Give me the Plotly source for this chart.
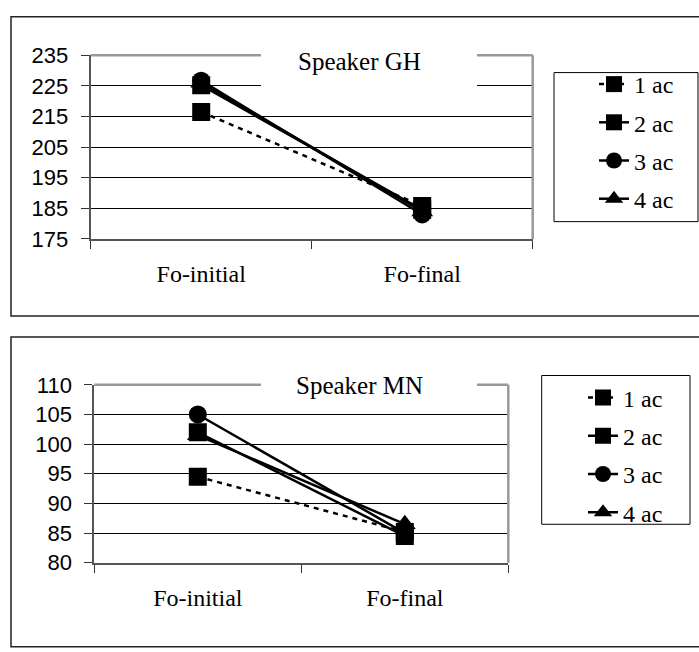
import plotly.graph_objects as go

W, H = 699, 652

# ---- data ----
categories = ["Fo-initial", "Fo-final"]
series_names = ["1 ac", "2 ac", "3 ac", "4 ac"]
gh_1ac = [216.5, 185.8]
gh_2ac = [225.2, 184.5]
gh_3ac = [226.7, 183.0]
gh_4ac = [226.0, 184.0]
mn_1ac = [94.5, 85.2]
mn_2ac = [102.0, 84.5]
mn_3ac = [105.0, 85.0]
mn_4ac = [101.5, 86.5]
gh_ticks = [175, 185, 195, 205, 215, 225, 235]
mn_ticks = [80, 85, 90, 95, 100, 105, 110]
titles = ["Speaker GH", "Speaker MN"]


def px_x(x):
    return x / W


def px_y(y):
    return 1 - y / H


symbols = ["square", "square", "circle", "triangle-up"]
dashes = ["5px,5px", "solid", "solid", "solid"]
sizes = [18, 18, 18, 19]

fig = go.Figure()

for vals, name, sym, dash, sz in zip([gh_1ac, gh_2ac, gh_3ac, gh_4ac], series_names, symbols, dashes, sizes):
    fig.add_trace(go.Scatter(
        x=categories, y=vals, name=name, mode="lines+markers",
        line=dict(color="black", width=2.5, dash=dash),
        marker=dict(symbol=sym, size=sz, color="black"),
        xaxis="x", yaxis="y", legend="legend", legendgroup="gh" + name,
    ))

for vals, name, sym, dash, sz in zip([mn_1ac, mn_2ac, mn_3ac, mn_4ac], series_names, symbols, dashes, sizes):
    fig.add_trace(go.Scatter(
        x=categories, y=vals, name=name, mode="lines+markers",
        line=dict(color="black", width=2.5, dash=dash),
        marker=dict(symbol=sym, size=sz, color="black"),
        xaxis="x2", yaxis="y2", legend="legend2", legendgroup="mn" + name,
    ))

SERIF = "Liberation Serif, Times New Roman, serif"
SANS = "Liberation Sans, Arial, sans-serif"
xfont = dict(family=SERIF, size=24, color="black")
yfont = dict(family=SANS, size=22, color="black")


def xaxis_cfg(domain, anchor):
    return dict(
        domain=domain, anchor=anchor, type="category",
        categoryorder="array", categoryarray=categories,
        range=[-0.5, 1.5], tickson="boundaries", ticks="outside",
        ticklen=8, tickwidth=1, tickcolor="#333",
        showgrid=False, showline=True, linecolor="#555", linewidth=2,
        tickfont=dict(xfont), ticklabelstandoff=12, zeroline=False,
    )


def yaxis_cfg(domain, anchor, rng, ticks):
    return dict(
        domain=domain, anchor=anchor, range=rng, tickvals=ticks,
        ticks="outside", ticklen=8, tickwidth=1, tickcolor="#333",
        showgrid=True, gridcolor="black", gridwidth=1,
        showline=True, linecolor="#555", linewidth=2,
        tickfont=dict(yfont), ticklabelstandoff=8, zeroline=False,
    )


shapes = []
# panel borders
shapes.append(dict(type="rect", xref="paper", yref="paper",
                   x0=px_x(11), x1=px_x(705), y0=px_y(5), y1=px_y(316),
                   line=dict(color="#222", width=1.5), layer="below"))
shapes.append(dict(type="rect", xref="paper", yref="paper",
                   x0=px_x(11), x1=px_x(705), y0=px_y(338), y1=px_y(660),
                   line=dict(color="#222", width=1.5), layer="below"))

# top / right gray frame lines of the plot areas
for xr, yr in [("x domain", "y domain"), ("x2 domain", "y2 domain")]:
    shapes.append(dict(type="line", xref=xr, yref=yr, x0=0, x1=1, y0=1, y1=1,
                       line=dict(color="#999", width=2.5), layer="above"))
    shapes.append(dict(type="line", xref=xr, yref=yr, x0=1, x1=1, y0=0, y1=1,
                       line=dict(color="#999", width=2.5), layer="above"))

# white title boxes
shapes.append(dict(type="rect", xref="paper", yref="paper",
                   x0=px_x(261), x1=px_x(477), y0=px_y(26), y1=px_y(88),
                   fillcolor="white", line=dict(width=0), layer="above"))
shapes.append(dict(type="rect", xref="paper", yref="paper",
                   x0=px_x(261), x1=px_x(477), y0=px_y(366), y1=px_y(410),
                   fillcolor="white", line=dict(width=0), layer="above"))

# legend boxes
shapes.append(dict(type="rect", xref="paper", yref="paper",
                   x0=px_x(554), x1=px_x(698), y0=px_y(63), y1=px_y(218),
                   fillcolor="white", line=dict(color="black", width=1), layer="below"))
shapes.append(dict(type="rect", xref="paper", yref="paper",
                   x0=px_x(541.7), x1=px_x(690), y0=px_y(378), y1=px_y(532.7),
                   fillcolor="white", line=dict(color="black", width=1), layer="below"))

annotations = [
    dict(text=titles[0], xref="paper", yref="paper", x=px_x(359), y=px_y(51),
         showarrow=False, font=dict(family=SERIF, size=25, color="black"),
         xanchor="center", yanchor="middle"),
    dict(text=titles[1], xref="paper", yref="paper", x=px_x(359), y=px_y(388),
         showarrow=False, font=dict(family=SERIF, size=25, color="black"),
         xanchor="center", yanchor="middle"),
]

legfont = dict(family=SERIF, size=24, color="black")

fig.update_layout(
    width=W, height=H, margin=dict(l=0, r=0, t=0, b=0),
    font=dict(family=SERIF, color="black"),
    paper_bgcolor="white", plot_bgcolor="white",
    xaxis=xaxis_cfg([px_x(90.7), px_x(532.7)], "y"),
    yaxis=yaxis_cfg([px_y(236), px_y(45)], "x", [175, 235], gh_ticks),
    xaxis2=xaxis_cfg([px_x(94.3), px_x(508.3)], "y2"),
    yaxis2=yaxis_cfg([px_y(572.7), px_y(387.7)], "x2", [80, 110], mn_ticks),
    shapes=shapes, annotations=annotations,
    legend=dict(x=px_x(594), y=px_y(52), xanchor="left", yanchor="top",
                bgcolor="rgba(0,0,0,0)", borderwidth=0, font=dict(legfont),
                tracegroupgap=4, itemsizing="trace"),
    legend2=dict(x=px_x(583), y=px_y(378), xanchor="left", yanchor="top",
                 bgcolor="rgba(0,0,0,0)", borderwidth=0, font=dict(legfont),
                 tracegroupgap=4, itemsizing="trace"),
    showlegend=True,
)

fig.write_html("out.html")
